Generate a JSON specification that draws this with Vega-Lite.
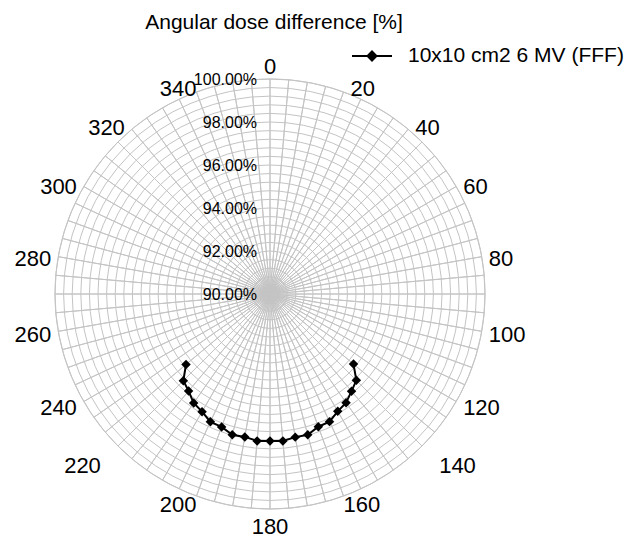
{
  "$schema": "https://vega.github.io/schema/vega-lite/v6.json",
  "width": 430,
  "height": 430,
  "autosize": {"type": "none"},
  "padding": {"left": 55, "top": 79, "right": 156, "bottom": 31},
  "config": {"view": {"stroke": null}, "font": "Liberation Sans", "text": {"font": "Liberation Sans"}},
  "title": {"text": "Angular dose difference [%]", "fontSize": 21, "fontWeight": "normal", "font": "Liberation Sans", "color": "black", "offset": 12, "dx": 4},
  "datasets": {
    "dose": [
      {"angle": 130, "value": 95.07, "series": "10x10 cm2 6 MV (FFF)"},
      {"angle": 135, "value": 95.68, "series": "10x10 cm2 6 MV (FFF)"},
      {"angle": 140, "value": 95.90, "series": "10x10 cm2 6 MV (FFF)"},
      {"angle": 145, "value": 96.17, "series": "10x10 cm2 6 MV (FFF)"},
      {"angle": 150, "value": 96.30, "series": "10x10 cm2 6 MV (FFF)"},
      {"angle": 155, "value": 96.55, "series": "10x10 cm2 6 MV (FFF)"},
      {"angle": 160, "value": 96.57, "series": "10x10 cm2 6 MV (FFF)"},
      {"angle": 165, "value": 96.78, "series": "10x10 cm2 6 MV (FFF)"},
      {"angle": 170, "value": 96.76, "series": "10x10 cm2 6 MV (FFF)"},
      {"angle": 175, "value": 96.86, "series": "10x10 cm2 6 MV (FFF)"},
      {"angle": 180, "value": 96.84, "series": "10x10 cm2 6 MV (FFF)"},
      {"angle": 185, "value": 96.86, "series": "10x10 cm2 6 MV (FFF)"},
      {"angle": 190, "value": 96.75, "series": "10x10 cm2 6 MV (FFF)"},
      {"angle": 195, "value": 96.78, "series": "10x10 cm2 6 MV (FFF)"},
      {"angle": 200, "value": 96.58, "series": "10x10 cm2 6 MV (FFF)"},
      {"angle": 205, "value": 96.56, "series": "10x10 cm2 6 MV (FFF)"},
      {"angle": 210, "value": 96.32, "series": "10x10 cm2 6 MV (FFF)"},
      {"angle": 215, "value": 96.19, "series": "10x10 cm2 6 MV (FFF)"},
      {"angle": 220, "value": 95.89, "series": "10x10 cm2 6 MV (FFF)"},
      {"angle": 225, "value": 95.70, "series": "10x10 cm2 6 MV (FFF)"},
      {"angle": 230, "value": 95.10, "series": "10x10 cm2 6 MV (FFF)"}
    ]
  },
  "layer": [
    {
      "data": {"values": [
        {"g": 0.4}, {"g": 0.8}, {"g": 1.2}, {"g": 1.6}, {"g": 2.0},
        {"g": 2.4}, {"g": 2.8}, {"g": 3.2}, {"g": 3.6}, {"g": 4.0},
        {"g": 4.4}, {"g": 4.8}, {"g": 5.2}, {"g": 5.6}, {"g": 6.0},
        {"g": 6.4}, {"g": 6.8}, {"g": 7.2}, {"g": 7.6}, {"g": 8.0},
        {"g": 8.4}, {"g": 8.8}, {"g": 9.2}, {"g": 9.6}, {"g": 10.0}
      ]},
      "mark": {"type": "point", "shape": "circle", "filled": false, "stroke": "#c4c4c4", "strokeWidth": 1, "opacity": 1},
      "encoding": {
        "x": {"datum": 0, "type": "quantitative", "scale": {"domain": [-10, 10], "nice": false, "zero": false}, "axis": null},
        "y": {"datum": 0, "type": "quantitative", "scale": {"domain": [-10, 10], "nice": false, "zero": false}, "axis": null},
        "size": {"field": "g", "type": "quantitative", "scale": {"type": "pow", "exponent": 2, "domain": [0, 10], "range": [0, 184900], "zero": true}, "legend": null}
      }
    },
    {
      "data": {"values": [
        {"a": 0, "w": 5}, {"a": 5, "w": 5}, {"a": 10, "w": 5}, {"a": 15, "w": 5}, {"a": 20, "w": 5}, {"a": 25, "w": 5},
        {"a": 30, "w": 5}, {"a": 35, "w": 5}, {"a": 40, "w": 5}, {"a": 45, "w": 5}, {"a": 50, "w": 5}, {"a": 55, "w": 5},
        {"a": 60, "w": 5}, {"a": 65, "w": 5}, {"a": 70, "w": 5}, {"a": 75, "w": 5}, {"a": 80, "w": 5}, {"a": 85, "w": 5},
        {"a": 90, "w": 5}, {"a": 95, "w": 5}, {"a": 100, "w": 5}, {"a": 105, "w": 5}, {"a": 110, "w": 5}, {"a": 115, "w": 5},
        {"a": 120, "w": 5}, {"a": 125, "w": 5}, {"a": 130, "w": 5}, {"a": 135, "w": 5}, {"a": 140, "w": 5}, {"a": 145, "w": 5},
        {"a": 150, "w": 5}, {"a": 155, "w": 5}, {"a": 160, "w": 5}, {"a": 165, "w": 5}, {"a": 170, "w": 5}, {"a": 175, "w": 5},
        {"a": 180, "w": 5}, {"a": 185, "w": 5}, {"a": 190, "w": 5}, {"a": 195, "w": 5}, {"a": 200, "w": 5}, {"a": 205, "w": 5},
        {"a": 210, "w": 5}, {"a": 215, "w": 5}, {"a": 220, "w": 5}, {"a": 225, "w": 5}, {"a": 230, "w": 5}, {"a": 235, "w": 5},
        {"a": 240, "w": 5}, {"a": 245, "w": 5}, {"a": 250, "w": 5}, {"a": 255, "w": 5}, {"a": 260, "w": 5}, {"a": 265, "w": 5},
        {"a": 270, "w": 5}, {"a": 275, "w": 5}, {"a": 280, "w": 5}, {"a": 285, "w": 5}, {"a": 290, "w": 5}, {"a": 295, "w": 5},
        {"a": 300, "w": 5}, {"a": 305, "w": 5}, {"a": 310, "w": 5}, {"a": 315, "w": 5}, {"a": 320, "w": 5}, {"a": 325, "w": 5},
        {"a": 330, "w": 5}, {"a": 335, "w": 5}, {"a": 340, "w": 5}, {"a": 345, "w": 5}, {"a": 350, "w": 5}, {"a": 355, "w": 5}
      ]},
      "mark": {"type": "arc", "radius": 215, "filled": false, "stroke": "#c4c4c4", "strokeWidth": 1},
      "encoding": {
        "theta": {"field": "w", "type": "quantitative", "stack": true},
        "order": {"field": "a", "type": "quantitative"}
      }
    },
    {
      "data": {"name": "dose"},
      "transform": [
        {"calculate": "datum.angle * PI / 180", "as": "rad"},
        {"calculate": "(datum.value - 90) * sin(datum.rad)", "as": "px"},
        {"calculate": "(datum.value - 90) * cos(datum.rad)", "as": "py"}
      ],
      "mark": {"type": "line", "strokeWidth": 2},
      "encoding": {
        "x": {"field": "px", "type": "quantitative", "scale": {"domain": [-10, 10], "nice": false, "zero": false}, "axis": null},
        "y": {"field": "py", "type": "quantitative", "scale": {"domain": [-10, 10], "nice": false, "zero": false}, "axis": null},
        "order": {"field": "angle", "type": "quantitative"},
        "color": {
          "field": "series", "type": "nominal",
          "scale": {"range": ["black"]},
          "legend": {
            "title": null, "orient": "none", "legendX": 306, "legendY": -34, "padding": 0,
            "symbolType": "M-2,0L2,0M0,-0.45L0.45,0L0,0.45L-0.45,0Z",
            "symbolSize": 400, "symbolStrokeWidth": 2,
            "labelFont": "Liberation Sans", "labelFontSize": 21, "labelColor": "black", "labelOffset": 25, "labelLimit": 400,
            "encode": {"symbols": {"update": {"fill": {"value": "black"}, "stroke": {"value": "black"}, "strokeWidth": {"value": 2}}}}
          }
        }
      }
    },
    {
      "data": {"name": "dose"},
      "transform": [
        {"calculate": "datum.angle * PI / 180", "as": "rad"},
        {"calculate": "(datum.value - 90) * sin(datum.rad)", "as": "px"},
        {"calculate": "(datum.value - 90) * cos(datum.rad)", "as": "py"}
      ],
      "mark": {"type": "point", "shape": "diamond", "filled": true, "size": 90, "color": "black", "opacity": 1},
      "encoding": {
        "x": {"field": "px", "type": "quantitative", "scale": {"domain": [-10, 10], "nice": false, "zero": false}, "axis": null},
        "y": {"field": "py", "type": "quantitative", "scale": {"domain": [-10, 10], "nice": false, "zero": false}, "axis": null}
      }
    },
    {
      "data": {"values": [
        {"p": 90, "t": "90.00%"}, {"p": 92, "t": "92.00%"}, {"p": 94, "t": "94.00%"},
        {"p": 96, "t": "96.00%"}, {"p": 98, "t": "98.00%"}, {"p": 100, "t": "100.00%"}
      ]},
      "transform": [{"calculate": "datum.p - 90", "as": "rr"}],
      "mark": {"type": "text", "align": "right", "baseline": "middle", "dx": -13, "dy": 1, "fontSize": 16, "color": "black", "font": "Liberation Sans"},
      "encoding": {
        "x": {"datum": 0, "type": "quantitative", "scale": {"domain": [-10, 10], "nice": false, "zero": false}, "axis": null},
        "y": {"field": "rr", "type": "quantitative", "scale": {"domain": [-10, 10], "nice": false, "zero": false}, "axis": null},
        "text": {"field": "t"}
      }
    },
    {
      "data": {"values": [
        {"a": 0, "t": "0"}, {"a": 20, "t": "20"}, {"a": 40, "t": "40"}, {"a": 60, "t": "60"},
        {"a": 80, "t": "80"}, {"a": 100, "t": "100"}, {"a": 120, "t": "120"}, {"a": 140, "t": "140"},
        {"a": 160, "t": "160"}, {"a": 180, "t": "180"}, {"a": 200, "t": "200"}, {"a": 220, "t": "220"},
        {"a": 240, "t": "240"}, {"a": 260, "t": "260"}, {"a": 280, "t": "280"}, {"a": 300, "t": "300"},
        {"a": 320, "t": "320"}, {"a": 340, "t": "340"}
      ]},
      "transform": [
        {"calculate": "datum.a * PI / 180", "as": "rad"},
        {"calculate": "sin(datum.rad)", "as": "s"},
        {"calculate": "cos(datum.rad)", "as": "c"},
        {"calculate": "datum.s > 0.01 ? 1 : (datum.s < -0.01 ? -1 : 0)", "as": "sg"},
        {"calculate": "(datum.a == 140 || datum.a == 220) ? 24 : ((datum.a == 160 || datum.a == 200 || datum.a == 340) ? -7 : 0)", "as": "adj"},
        {"calculate": "(215 * datum.s + datum.sg * (length(datum.t) * 6.1 + 7 + datum.adj)) / 21.5", "as": "lx"},
        {"calculate": "(221 * datum.c + (datum.sg == 0 ? 9 * datum.c : 0) - 3) / 21.5", "as": "ly"}
      ],
      "mark": {"type": "text", "align": "center", "baseline": "middle", "fontSize": 22, "color": "black", "font": "Liberation Sans"},
      "encoding": {
        "x": {"field": "lx", "type": "quantitative", "scale": {"domain": [-10, 10], "nice": false, "zero": false}, "axis": null},
        "y": {"field": "ly", "type": "quantitative", "scale": {"domain": [-10, 10], "nice": false, "zero": false}, "axis": null},
        "text": {"field": "t"}
      }
    }
  ]
}
